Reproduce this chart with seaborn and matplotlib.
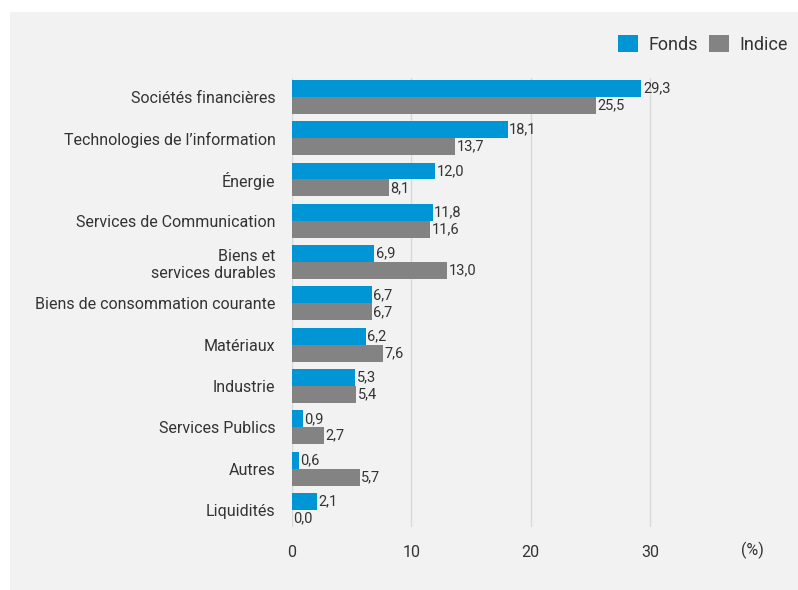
import pandas as pd
import numpy as np
import matplotlib
matplotlib.use("Agg")
import matplotlib.pyplot as plt
from matplotlib.patches import Rectangle, Patch
import seaborn as sns

categories = ["Sociétés financières", "Technologies de l’information", "Énergie",
              "Services de Communication", "Biens et\nservices durables",
              "Biens de consommation courante", "Matériaux", "Industrie",
              "Services Publics", "Autres", "Liquidités"]
fonds = [29.3, 18.1, 12.0, 11.8, 6.9, 6.7, 6.2, 5.3, 0.9, 0.6, 2.1]
indice = [25.5, 13.7, 8.1, 11.6, 13.0, 6.7, 7.6, 5.4, 2.7, 5.7, 0.0]
series = ["Fonds", "Indice"]
colors = ["#0096d6", "#838383"]
xticks = [0, 10, 20, 30]

df = pd.DataFrame({"cat": categories * 2,
                   "val": fonds + indice,
                   "serie": [series[0]] * len(categories) + [series[1]] * len(categories)})

sns.set_style("white")
plt.rcParams['font.family'] = ['Roboto', 'DejaVu Sans']

fig = plt.figure(figsize=(7.98, 5.90), dpi=100, facecolor="white")
bg = "#f2f2f2"
fig.patches.append(Rectangle((10 / 798, 0), 788 / 798, 1 - 12 / 590, transform=fig.transFigure,
                             facecolor=bg, edgecolor="none", zorder=-10))
# axes: x from 292px to ~722px, y from 78px to ~527px
ax = fig.add_axes([0.366, 0.107, 0.538, 0.761])
ax.set_facecolor(bg)

sns.barplot(data=df, y="cat", x="val", hue="serie", orient="h", palette=colors,
            width=0.82, saturation=1, linewidth=0, ax=ax, legend=False)

for cont in ax.containers:
    ax.bar_label(cont, labels=[f"{v:.1f}".replace(".", ",") for v in cont.datavalues],
                 padding=1, fontsize=10.5, color="#333333")

ax.set_xlim(0, 36)
ax.set_ylim(len(categories) - 0.59, -0.46)
ax.set_xticks(xticks)
ax.set_xticklabels([str(t) for t in xticks], fontsize=11.5, color="#333333")
ax.tick_params(axis="x", length=0, pad=13)
ax.tick_params(axis="y", length=0, pad=12)
for lbl in ax.get_yticklabels():
    lbl.set_fontsize(11.5)
    lbl.set_color("#333333")
    lbl.set_horizontalalignment("right")
    lbl.set_multialignment("right")
ax.grid(axis="x", color="#d9d9d9", linewidth=1)
ax.set_axisbelow(True)
for s in ax.spines.values():
    s.set_visible(False)
ax.set_xlabel("")
ax.set_ylabel("")

fig.text(752 / 798, 1 - 550 / 590, "(%)", fontsize=11.5, color="#333333", ha="center", va="center")

handles = [Patch(facecolor=c, edgecolor="none") for c in colors]
fig.legend(handles, series, loc="upper right", bbox_to_anchor=(1.008, 0.968), ncol=2,
           frameon=False, fontsize=13, handlelength=1.1, handleheight=1.1,
           handletextpad=0.6, columnspacing=0.6, labelcolor="#333333")

fig.savefig("out.png", dpi=100, facecolor="white")
